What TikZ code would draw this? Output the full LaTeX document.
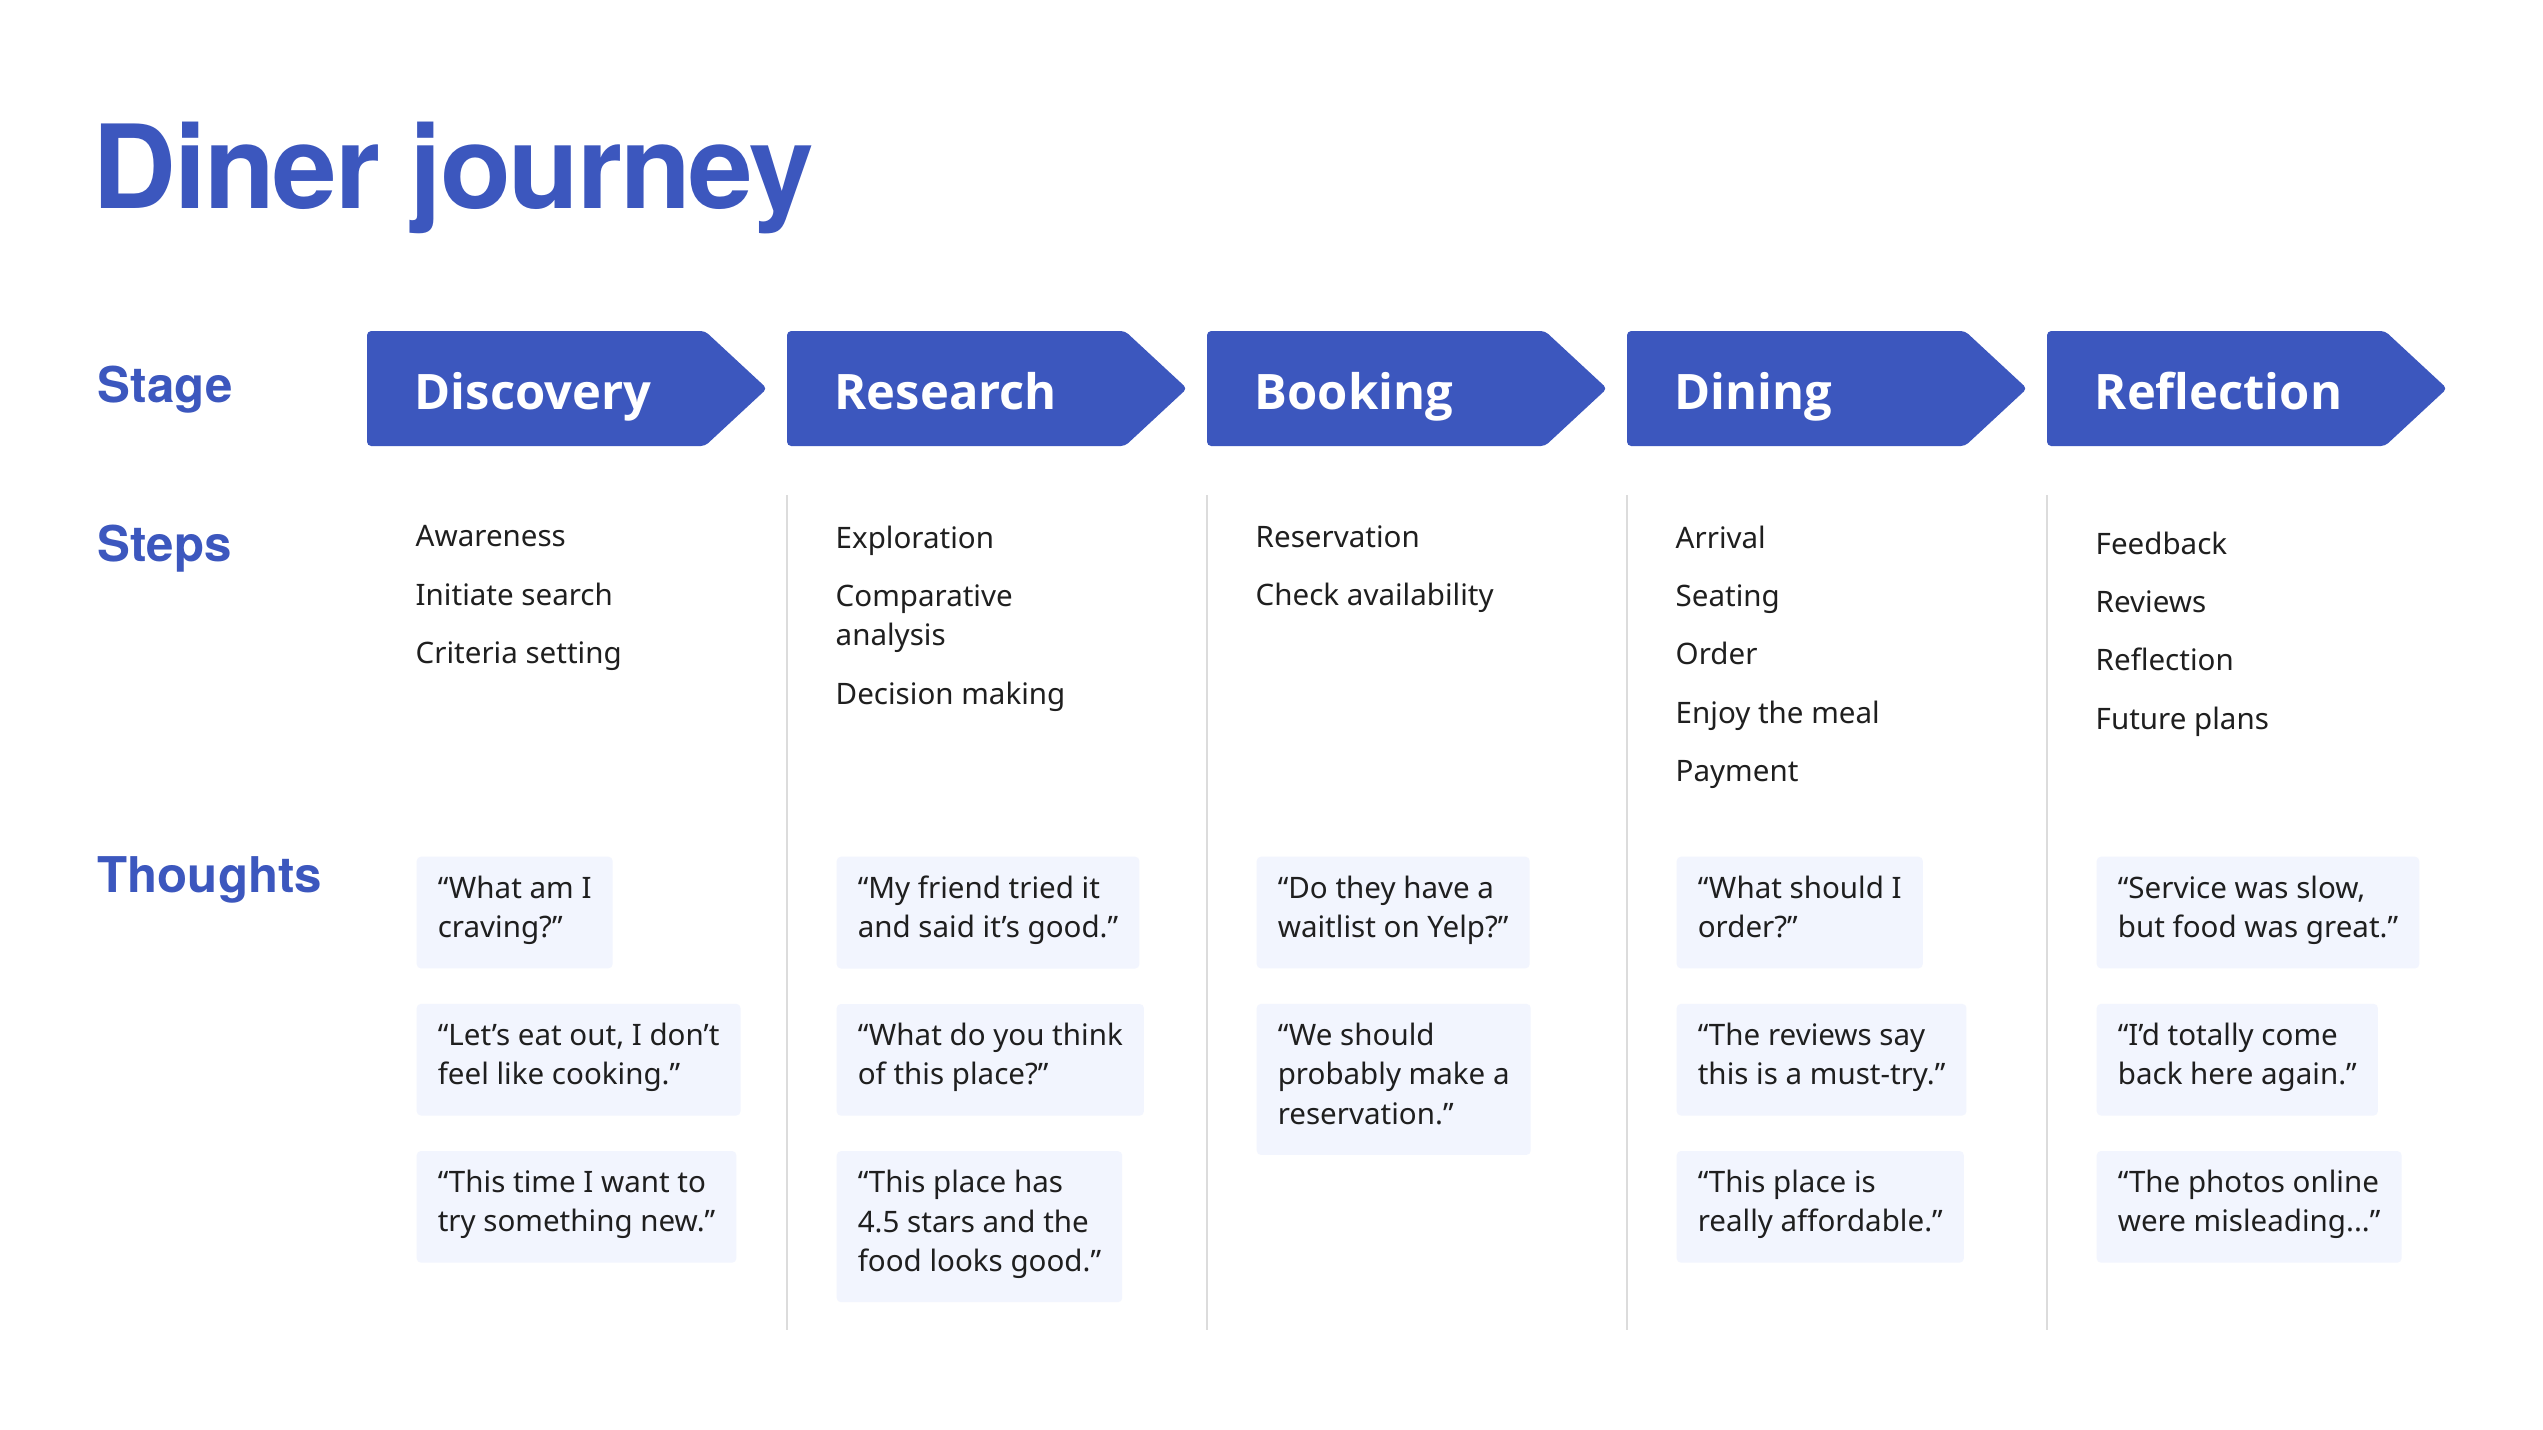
\documentclass[tikz,border=0pt]{standalone}
\usepackage{fontspec}
\setmainfont{Noto Sans}
\newfontfamily\headfont{TeX Gyre Heros}
\newfontfamily\stgfont{Open Sans}
\usetikzlibrary{positioning}
\definecolor{jblue}{HTML}{3C57BE}
\definecolor{jbox}{HTML}{F2F5FE}
\definecolor{jtext}{HTML}{1F1F1F}
\definecolor{jsep}{HTML}{DCDCDC}

\begin{document}
\begin{tikzpicture}[x=0.01cm, y=-0.01cm,
    every node/.style={text=jtext, font=\fontsize{8.4}{11.2}\selectfont},
    hd/.style={anchor=base west, inner sep=0pt, text=jblue,
               font=\headfont\bfseries\fontsize{14}{16}\selectfont},
    stg/.style={fill=jblue, rounded corners=1.2pt},
    stl/.style={anchor=base west, inner sep=0pt, text=white,
                font=\stgfont\bfseries\fontsize{13.9}{17}\selectfont},
    st/.style={anchor=north west, inner sep=0pt, align=left,
               execute at begin node=\strut},
    th/.style={anchor=north west, fill=jbox, rounded corners=1.2pt,
               inner xsep=6pt, inner ysep=5.4pt, align=left,
               execute at begin node=\strut},
    sep/.style={draw=jsep, line width=0.6pt},
  ]
  \fill[white] (0,0) rectangle (2543,1429);
  \useasboundingbox (0,0) rectangle (2543,1429);

  \node[hd, font=\headfont\bfseries\fontsize{33}{38}\selectfont\addfontfeatures{LetterSpace=-2}] (title) at (92,208) {Diner journey};
  \node[hd] (hstage) at (97,402) {Stage};
  \node[hd] (hsteps) at (97,561) {Steps};
  \node[hd] (hthink) at (97,892) {Thoughts};

  % stage arrows
  \fill[stg] (367,331) -- ++(338,0) -- ++(62,57.5) -- ++(-62,57.5) -- ++(-338,0) -- cycle;
  \fill[stg] (787,331) -- ++(338,0) -- ++(62,57.5) -- ++(-62,57.5) -- ++(-338,0) -- cycle;
  \fill[stg] (1207,331) -- ++(338,0) -- ++(62,57.5) -- ++(-62,57.5) -- ++(-338,0) -- cycle;
  \fill[stg] (1627,331) -- ++(338,0) -- ++(62,57.5) -- ++(-62,57.5) -- ++(-338,0) -- cycle;
  \fill[stg] (2047,331) -- ++(338,0) -- ++(62,57.5) -- ++(-62,57.5) -- ++(-338,0) -- cycle;
  \node[stl] (a1) at (414,409) {Discovery};
  \node[stl] (a2) at (834,409) {Research};
  \node[stl] (a3) at (1254,409) {Booking};
  \node[stl] (a4) at (1674,409) {Dining};
  \node[stl] (a5) at (2094,409) {Reflection};

  % column rules
  \draw[sep] (787,495) -- (787,1330);
  \draw[sep] (1207,495) -- (1207,1330);
  \draw[sep] (1627,495) -- (1627,1330);
  \draw[sep] (2047,495) -- (2047,1330);

  % steps
  \node[st] (s1) at (415,525) {Awareness\\[5.4pt]Initiate search\\[5.4pt]Criteria setting};
  \node[st] (s2) at (835,525) {Exploration\\[5.4pt]Comparative\\analysis\\[5.4pt]Decision making};
  \node[st] (s3) at (1255,525) {Reservation\\[5.4pt]Check availability};
  \node[st] (s4) at (1675,525) {Arrival\\[5.4pt]Seating\\[5.4pt]Order\\[5.4pt]Enjoy the meal\\[5.4pt]Payment};
  \node[st] (s5) at (2095,531) {Feedback\\[5.4pt]Reviews\\[5.4pt]Reflection\\[5.4pt]Future plans};

  % thoughts
  \node[th] (t11) at (416,856) {“What am I\\craving?”};
  \node[th, below=9.7pt of t11.south west, anchor=north west] (t12) {“Let’s eat out, I don’t\\feel like cooking.”};
  \node[th, below=9.7pt of t12.south west, anchor=north west] (t13) {“This time I want to\\try something new.”};

  \node[th] (t21) at (836,856) {“My friend tried it\\and said it’s good.”};
  \node[th, below=9.7pt of t21.south west, anchor=north west] (t22) {“What do you think\\of this place?”};
  \node[th, below=9.7pt of t22.south west, anchor=north west] (t23) {“This place has\\4.5 stars and the\\food looks good.”};

  \node[th] (t31) at (1256,856) {“Do they have a\\waitlist on Yelp?”};
  \node[th, below=9.7pt of t31.south west, anchor=north west] (t32) {“We should\\probably make a\\reservation.”};

  \node[th] (t41) at (1676,856) {“What should I\\order?”};
  \node[th, below=9.7pt of t41.south west, anchor=north west] (t42) {“The reviews say\\this is a must-try.”};
  \node[th, below=9.7pt of t42.south west, anchor=north west] (t43) {“This place is\\really affordable.”};

  \node[th] (t51) at (2096,856) {“Service was slow,\\but food was great.”};
  \node[th, below=9.7pt of t51.south west, anchor=north west] (t52) {“I’d totally come\\back here again.”};
  \node[th, below=9.7pt of t52.south west, anchor=north west] (t53) {“The photos online\\were misleading...”};
\end{tikzpicture}
\end{document}
